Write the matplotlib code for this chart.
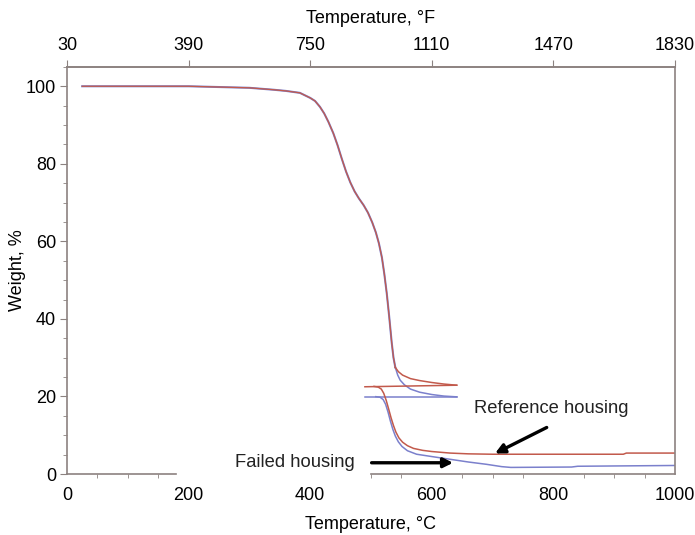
import matplotlib
matplotlib.use("Agg")
import matplotlib.pyplot as plt
from matplotlib.ticker import MultipleLocator, FixedLocator

plt.rcParams['font.family'] = ['Liberation Sans', 'DejaVu Sans']

# shared decomposition step (both housings overlap up to ~540 C)
t_common = [25, 100, 200, 300, 340, 360, 383, 400, 408, 416, 423, 430, 438,
            445, 452, 459, 466, 473, 480, 488, 495, 502, 508, 513, 518, 522,
            526, 530, 534, 537, 540]
w_common = [100, 100, 100, 99.6, 99.1, 98.8, 98.3, 97.0, 96.2, 94.7, 93.0,
            90.8, 87.9, 84.8, 81.3, 78.0, 75.2, 72.9, 71.1, 69.3, 67.4, 64.9,
            62.3, 59.5, 55.8, 51.5, 46.5, 40.5, 34.0, 30.0, 27.5]

# tail of the first trace for each housing
t_ref_tail = [540, 545, 552, 565, 580, 600, 620, 641]
w_ref_tail = [27.5, 26.4, 25.5, 24.6, 24.1, 23.6, 23.2, 22.9]
t_fail_tail = [540, 544, 548, 555, 565, 580, 600, 620, 641]
w_fail_tail = [27.5, 25.5, 24.2, 23.0, 21.9, 21.1, 20.5, 20.1, 19.9]

# baseline segments
t_ref_base = [490, 641]
w_ref_base = [22.5, 22.9]
t_fail_base = [490, 641]
w_fail_base = [19.9, 19.9]

# residue traces
t_ref_low = [505, 512, 517, 521, 525, 529, 533, 537, 541, 546, 552, 560,
             570, 585, 600, 630, 660, 700, 915, 920, 1000]
w_ref_low = [22.6, 22.4, 21.9, 20.8, 19.0, 16.8, 14.5, 12.5, 10.8, 9.3, 8.2,
             7.3, 6.6, 6.1, 5.8, 5.4, 5.2, 5.1, 5.1, 5.4, 5.4]
t_fail_low = [508, 515, 520, 524, 528, 532, 536, 540, 545, 551, 560, 575,
              600, 630, 660, 690, 715, 730, 830, 840, 1000]
w_fail_low = [19.95, 19.8, 19.2, 18.0, 16.0, 13.6, 11.5, 9.8, 8.3, 7.1, 6.0,
              5.1, 4.5, 3.8, 3.1, 2.5, 1.9, 1.7, 1.8, 2.0, 2.2]

# tick labels
c_ticks = [0, 200, 400, 600, 800, 1000]
f_labels = ['30', '390', '750', '1110', '1470', '1830']
w_ticks = [0, 20, 40, 60, 80, 100]

red = '#c25a4c'
blue = '#7b80cc'
spine_c = '#8c8280'
fs = 13

fig = plt.figure(figsize=(6.95, 5.35), dpi=100)
ax = fig.add_axes([0.0964, 0.114, 0.8748, 0.761])

lw = 1.1
ax.plot(t_common, w_common, color=blue, lw=lw + 0.4)
ax.plot(t_fail_tail, w_fail_tail, color=blue, lw=lw)
ax.plot(t_fail_base, w_fail_base, color=blue, lw=lw)
ax.plot(t_fail_low, w_fail_low, color=blue, lw=lw)
ax.plot(t_common, w_common, color=red, lw=lw - 0.2)
ax.plot(t_ref_tail, w_ref_tail, color=red, lw=lw)
ax.plot(t_ref_base, w_ref_base, color=red, lw=lw)
ax.plot(t_ref_low, w_ref_low, color=red, lw=lw)

ax.set_xlim(0, 1000)
ax.set_ylim(0, 105)

# axes frame
for side in ['left', 'right', 'top', 'bottom']:
    ax.spines[side].set_color(spine_c)
    ax.spines[side].set_linewidth(1.2)
ax.spines['bottom'].set_bounds(500, 1000)
ax.axhline(0, xmin=0, xmax=0.18, color=spine_c, lw=1.2, clip_on=False)

ax.set_xticks(c_ticks)
ax.xaxis.set_minor_locator(FixedLocator([0, 50, 100, 150] + list(range(500, 1001, 50))))
ax.tick_params(axis='x', which='major', length=0, pad=9, labelsize=fs)
ax.tick_params(axis='x', which='minor', length=3, direction='out', color=spine_c)

ax.set_yticks(w_ticks)
ax.yaxis.set_minor_locator(MultipleLocator(5))
ax.tick_params(axis='y', which='major', length=5, direction='out', color=spine_c, labelsize=fs, pad=3)
ax.tick_params(axis='y', which='minor', length=3, direction='out', color=spine_c)

ax.set_xlabel('Temperature, °C', fontsize=fs, labelpad=9)
ax.set_ylabel('Weight, %', fontsize=fs, va='center')
ax.yaxis.set_label_coords(-0.082, 0.5)

# Fahrenheit scale along the top
top = ax.secondary_xaxis('top')
top.set_xticks(c_ticks)
top.set_xticklabels(f_labels)
top.tick_params(length=5, direction='out', color=spine_c, labelsize=fs, pad=4)
top.spines['top'].set_color(spine_c)
top.spines['top'].set_linewidth(1.2)
top.set_xlabel('Temperature, °F', fontsize=fs, labelpad=10)

arrow = dict(arrowstyle='-|>', color='black', lw=2.4, mutation_scale=14, shrinkA=0, shrinkB=0)
ax.annotate('', xy=(635, 2.9), xytext=(501, 2.9), arrowprops=arrow)
ax.text(474, 2.9, 'Failed housing', ha='right', va='center', fontsize=13.2, color='#222222')
ax.annotate('', xy=(704, 5.3), xytext=(789, 12.0), arrowprops=arrow)
ax.text(669, 17.0, 'Reference housing', ha='left', va='center', fontsize=13.2, color='#222222')

fig.savefig('out.png', dpi=100)
